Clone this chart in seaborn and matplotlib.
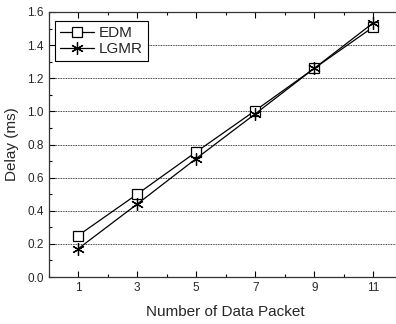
import pandas as pd
import seaborn as sns
import matplotlib.pyplot as plt
from matplotlib.ticker import MultipleLocator

# Dados
pacotes = [1, 3, 5, 7, 9, 11]
edm = [0.25, 0.50, 0.755, 1.005, 1.26, 1.51]
lgmr = [0.17, 0.44, 0.715, 0.985, 1.26, 1.535]

series = {'EDM': edm, 'LGMR': lgmr}
marcadores = {'EDM': 's', 'LGMR': (6, 2, 0)}
tamanhos = {'EDM': 6.5, 'LGMR': 9}

sns.set_style('ticks')
plt.rcParams['font.family'] = ['Liberation Sans', 'DejaVu Sans']

fig = plt.figure(figsize=(3.96, 3.24), dpi=100)
ax = fig.add_axes([0.1225, 0.145, 0.895, 0.818])

for nome, valores in series.items():
    sns.lineplot(x=pacotes, y=valores, color='black', marker=marcadores[nome],
                 markersize=tamanhos[nome], linewidth=0.9, markerfacecolor='white',
                 markeredgecolor='black', markeredgewidth=0.9, label=nome, ax=ax)

ax.set_xlim(0, 12)
ax.set_ylim(0, 1.6)
ax.set_xticks([1, 3, 5, 7, 9, 11])
ax.xaxis.set_minor_locator(MultipleLocator(1))
ax.yaxis.set_major_locator(MultipleLocator(0.2))
ax.yaxis.set_minor_locator(MultipleLocator(0.1))
ax.yaxis.set_major_formatter(plt.FormatStrFormatter('%.1f'))

ax.tick_params(which='both', direction='in', top=True, right=False, labelsize=8.5, color='black')
ax.tick_params(which='major', length=4, width=0.8)
ax.tick_params(which='minor', length=2, width=0.8)
for s in ax.spines.values():
    s.set_linewidth(0.9)
    s.set_color('#333333')
ax.spines['right'].set_visible(False)

ax.grid(axis='y', which='major', linestyle=(0, (1, 1)), color='black', linewidth=0.6)
ax.set_axisbelow(True)

ax.set_xlabel('Number of Data Packet', fontsize=11, labelpad=8)
ax.set_ylabel('Delay (ms)', fontsize=11, labelpad=6)

leg = ax.legend(loc='upper left', bbox_to_anchor=(0.018, 0.966), borderaxespad=0,
                fontsize=11, frameon=True, fancybox=False, edgecolor='black',
                framealpha=1, handlelength=2.2, handletextpad=0.3, borderpad=0.35,
                labelspacing=0.1)
leg.get_frame().set_linewidth(0.8)

fig.savefig('out.png', dpi=100)
